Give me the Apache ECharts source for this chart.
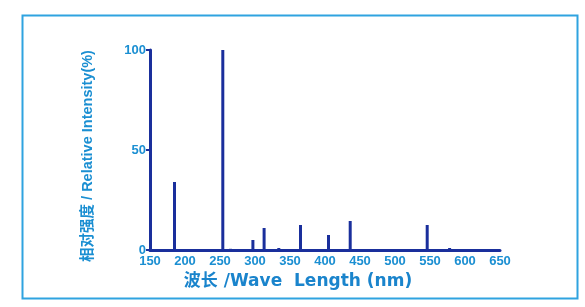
<!DOCTYPE html>
<html><head><meta charset="utf-8">
<script src="https://cdn.jsdelivr.net/npm/echarts@6/dist/echarts.min.js"></script>
<style>html,body{margin:0;padding:0;background:#fff}#c{width:585px;height:307px}</style>
</head><body><div id="c"></div>
<script>
const wavelengths = [185, 254, 265, 297, 313, 334, 365, 405, 436, 546, 578];
const intensities = [34, 100, 0.6, 5, 11, 1, 12.5, 7.5, 14.5, 12.5, 1];
const xTicks = [150, 200, 250, 300, 350, 400, 450, 500, 550, 600, 650];
const yTicks = [0, 50, 100];

const chart = echarts.init(document.getElementById('c'), null, {renderer:'canvas'});
const txt = '#1b8fd2';
const dark = '#1a2f9c';
chart.setOption({
  animation: false,
  backgroundColor: '#fff',
  graphic: [{
    type: 'rect', left: 20, top: 13, shape: {width: 555, height: 283},
    style: {fill: 'none', stroke: '#2fa3e0', lineWidth: 2}
  }],
  grid: {left: 150, right: 85, top: 50, bottom: 57},
  xAxis: {
    type: 'value', min: xTicks[0], max: xTicks[xTicks.length-1], interval: 50,
    name: '波长 /Wave  Length (nm)', nameLocation: 'middle', nameGap: 19,
    nameTextStyle: {color: '#1a84cc', fontWeight: 'bold', fontSize: 17, fontFamily: 'DejaVu Sans, Noto Sans CJK SC', padding: [0, 54, 0, 0]},
    axisLine: {lineStyle: {color: dark, width: 3}},
    axisTick: {show: false},
    splitLine: {show: false},
    axisLabel: {color: txt, fontWeight: 'bold', fontSize: 13, margin: 5, fontFamily: 'Liberation Sans'}
  },
  yAxis: {
    type: 'value', min: yTicks[0], max: yTicks[yTicks.length-1], interval: 50,
    name: '相对强度 / Relative Intensity(%)', nameLocation: 'middle', nameGap: 55, nameRotate: 90,
    nameTextStyle: {color: txt, fontWeight: 'bold', fontSize: 14.5, fontFamily: 'Liberation Sans, Noto Sans CJK SC', padding: [0, 12, 0, 0]},
    axisLine: {show: true, lineStyle: {color: dark, width: 3}},
    axisTick: {show: true, length: 4, lineStyle: {color: dark, width: 2}},
    splitLine: {show: false},
    axisLabel: {color: txt, fontWeight: 'bold', fontSize: 13, margin: 4, fontFamily: 'Liberation Sans'}
  },
  series: [{
    type: 'bar',
    barWidth: 3,
    itemStyle: {color: dark},
    data: wavelengths.map((w, i) => [w, intensities[i]])
  }]
});
</script></body></html>
